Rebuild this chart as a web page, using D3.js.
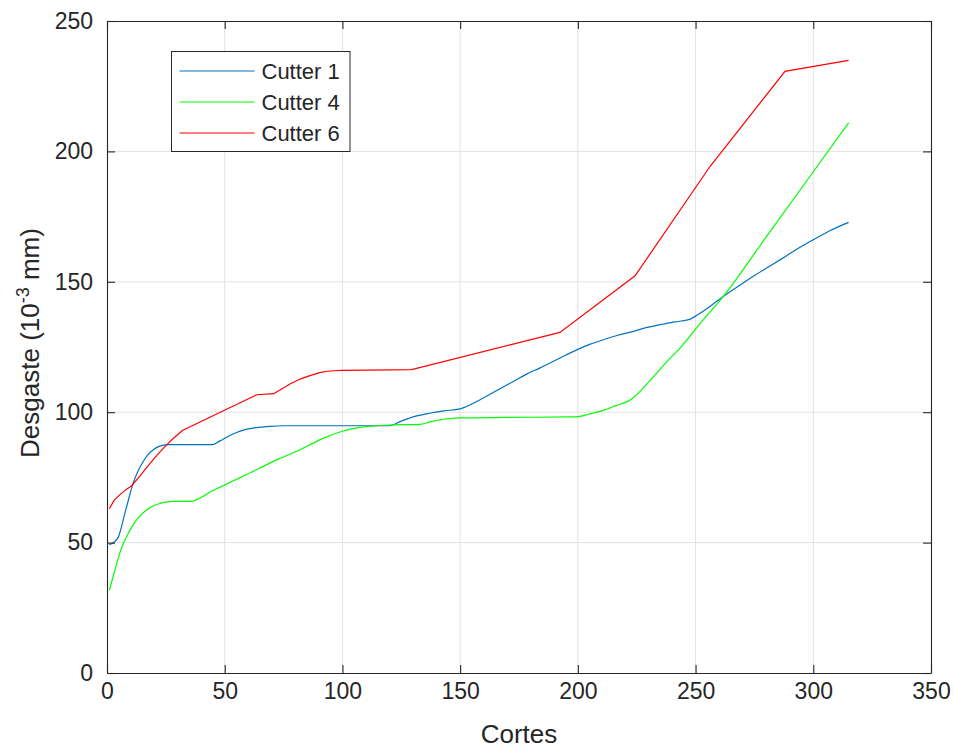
<!DOCTYPE html>
<html>
<head>
<meta charset="utf-8">
<script src="https://cdnjs.cloudflare.com/ajax/libs/d3/7.8.5/d3.min.js"></script>
<style>
  body { margin: 0; background: #fff; }
  text { font-family: "Liberation Sans", Arial, Helvetica, sans-serif; fill: #262626; }
</style>
</head>
<body>
<div id="chart-area"></div>
<script>
// values
var xTicks = [0, 50, 100, 150, 200, 250, 300, 350];
var yTicks = [0, 50, 100, 150, 200, 250];
var seriesNames = ["Cutter 1", "Cutter 4", "Cutter 6"];
var seriesColors = ["#0072bd", "#00ff00", "#ff0000"];

var cutter1X = [1, 3, 4.8, 7.6, 9.3, 11.1, 13.2, 15.4, 17.5, 19.7, 21.8, 23.9, 26, 45, 48, 51.4, 55, 58.6, 62, 65.7,
  69.3, 75, 120, 125, 130, 137, 143, 150, 158.5, 165, 172.6, 178, 184, 192.4, 200.2, 205, 210.8, 217, 223.6, 229,
  234.9, 241, 247.5, 252, 256.5, 261.8, 268, 274.5, 280, 286, 293, 300, 307, 315];
var cutter1Y = [49.2, 50.2, 52.1, 61.3, 67, 72.8, 77.5, 81.1, 83.8, 85.6, 86.8, 87.4, 87.6, 87.6, 89, 90.7, 92.2, 93.3, 93.9, 94.3,
  94.6, 94.8, 94.8, 96.6, 98.2, 99.6, 100.5, 101.3, 104.8, 108, 111.8, 114.5, 117, 120.8, 124.2, 126, 127.8, 129.5, 131, 132.4,
  133.6, 134.6, 135.6, 138, 140.8, 144.4, 148.2, 152.1, 155.2, 158.5, 162.5, 166.1, 169.6, 172.8];

var cutter4X = [1, 3.4, 6.2, 9, 11.1, 13.3, 16.8, 19.5, 22.5, 25, 28.2, 35.2, 45, 58.6, 72.8, 82, 90.5, 99.6, 107.5, 114.6,
  120.2, 133, 137.2, 143, 150, 170, 196.7, 200, 205, 210.8, 216, 222.9, 228, 233.5, 238, 243.4, 251.9, 261.8, 280, 300, 315];
var cutter4Y = [31.7, 39.6, 48, 53.5, 56.8, 59.6, 62.5, 64, 65, 65.5, 65.8, 65.8, 70, 75.8, 82, 85.6, 89.5, 92.6, 94.2, 94.8,
  95.1, 95.3, 96.3, 97.3, 97.8, 98, 98.2, 98.3, 99.3, 100.7, 102.5, 105.1, 109.5, 115, 119.6, 124.6, 134, 144.4, 167.2, 192.2, 210.9];

var cutter6X = [1, 3, 5.5, 8, 10.5, 14, 18.2, 22, 25.3, 28, 32, 63.7, 70.8, 74, 77.7, 82, 86.2, 90, 93.3, 96.5,
  99.6, 129.4, 192.4, 224.3, 256.2, 288, 315];
var cutter6Y = [63, 66.2, 68.4, 70.3, 71.8, 75.6, 80.3, 84.3, 87.5, 89.8, 93, 106.7, 107.1, 108.8, 110.8, 112.7, 114, 115.1, 115.7, 115.9,
  116, 116.3, 130.6, 152.3, 194.3, 230.7, 234.9];

var seriesX = [cutter1X, cutter4X, cutter6X];
var seriesY = [cutter1Y, cutter4Y, cutter6Y];

var margin = {top: 21, bottom: 76, right: 23, left: 107};
var width = 954 - margin.left - margin.right;
var height = 749 - margin.top - margin.bottom;
var axisColor = "#262626";

var svg = d3.select("#chart-area")
  .append("svg")
  .attr("width", 954)
  .attr("height", 749);

var g = svg.append("g")
  .attr("transform", "translate(" + margin.left + "," + margin.top + ")");

var x = d3.scaleLinear().domain([0, 350]).range([0, width]);
var y = d3.scaleLinear().domain([0, 250]).range([height, 0]);

// grid
g.append("g").attr("class", "grid")
  .selectAll("line.gx").data(xTicks.slice(1, -1)).enter().append("line")
  .attr("x1", d => x(d)).attr("x2", d => x(d))
  .attr("y1", 0).attr("y2", height)
  .attr("stroke", "#e3e3e3").attr("stroke-width", 1);
g.append("g").attr("class", "grid")
  .selectAll("line.gy").data(yTicks.slice(1, -1)).enter().append("line")
  .attr("x1", 0).attr("x2", width)
  .attr("y1", d => y(d)).attr("y2", d => y(d))
  .attr("stroke", "#e3e3e3").attr("stroke-width", 1);

// lines (cutter 1 and 4 are smooth, cutter 6 is piecewise)
var smoothLine = d3.line()
  .x(d => x(d[0]))
  .y(d => y(d[1]))
  .curve(d3.curveMonotoneX);
var straightLine = d3.line()
  .x(d => x(d[0]))
  .y(d => y(d[1]));

seriesNames.forEach(function(name, i) {
  var pts = seriesX[i].map((v, j) => [v, seriesY[i][j]]);
  g.append("path")
    .datum(pts)
    .attr("fill", "none")
    .attr("stroke", seriesColors[i])
    .attr("stroke-width", 1.2)
    .attr("d", i < 2 ? smoothLine : straightLine);
});

// axes, ticks pointing inward like matlab
var tickLen = 8;
var xAxis = g.append("g")
  .attr("transform", "translate(0," + height + ")")
  .call(d3.axisBottom(x).tickValues(xTicks).tickSizeInner(-tickLen).tickSizeOuter(0).tickPadding(10));
var xTop = g.append("g")
  .call(d3.axisTop(x).tickValues(xTicks).tickSizeInner(-tickLen).tickSizeOuter(0).tickFormat(""));
var yAxis = g.append("g")
  .call(d3.axisLeft(y).tickValues(yTicks).tickSizeInner(-tickLen).tickSizeOuter(0).tickPadding(14));
var yRight = g.append("g")
  .attr("transform", "translate(" + width + ",0)")
  .call(d3.axisRight(y).tickValues(yTicks).tickSizeInner(-tickLen).tickSizeOuter(0).tickFormat(""));

[xAxis, xTop, yAxis, yRight].forEach(function(a) {
  a.selectAll("path").attr("stroke", axisColor).attr("stroke-width", 1.1);
  a.selectAll("line").attr("stroke", axisColor).attr("stroke-width", 1.1);
  a.selectAll("text").attr("fill", axisColor).style("font-size", "23px")
    .style("font-family", "'Liberation Sans', Arial, sans-serif");
});

// axis labels
g.append("text")
  .attr("x", width / 2)
  .attr("y", height + 70)
  .attr("text-anchor", "middle")
  .style("font-size", "26px")
  .text("Cortes");

var yLabel = g.append("text")
  .attr("transform", "rotate(-90)")
  .attr("x", -height / 2 + 4)
  .attr("y", -68)
  .attr("text-anchor", "middle")
  .style("font-size", "26px");
yLabel.append("tspan").text("Desgaste (10");
yLabel.append("tspan").attr("dy", -10).style("font-size", "18px").text("-3");
yLabel.append("tspan").attr("dy", 10).text(" mm)");

// legend
var legend = g.append("g")
  .attr("transform", "translate(" + (171.5 - margin.left) + "," + (51.5 - margin.top) + ")");
legend.append("rect")
  .attr("width", 178.5).attr("height", 100)
  .attr("fill", "#fff")
  .attr("stroke", axisColor).attr("stroke-width", 1);
seriesNames.forEach(function(name, i) {
  var ly = 19.5 + i * 31;
  legend.append("line")
    .attr("x1", 8).attr("x2", 83)
    .attr("y1", ly).attr("y2", ly)
    .attr("stroke", seriesColors[i]).attr("stroke-width", 1.2);
  legend.append("text")
    .attr("x", 90).attr("y", ly + 8)
    .style("font-size", "22px")
    .attr("fill", "#000")
    .text(name);
});
</script>
</body>
</html>
